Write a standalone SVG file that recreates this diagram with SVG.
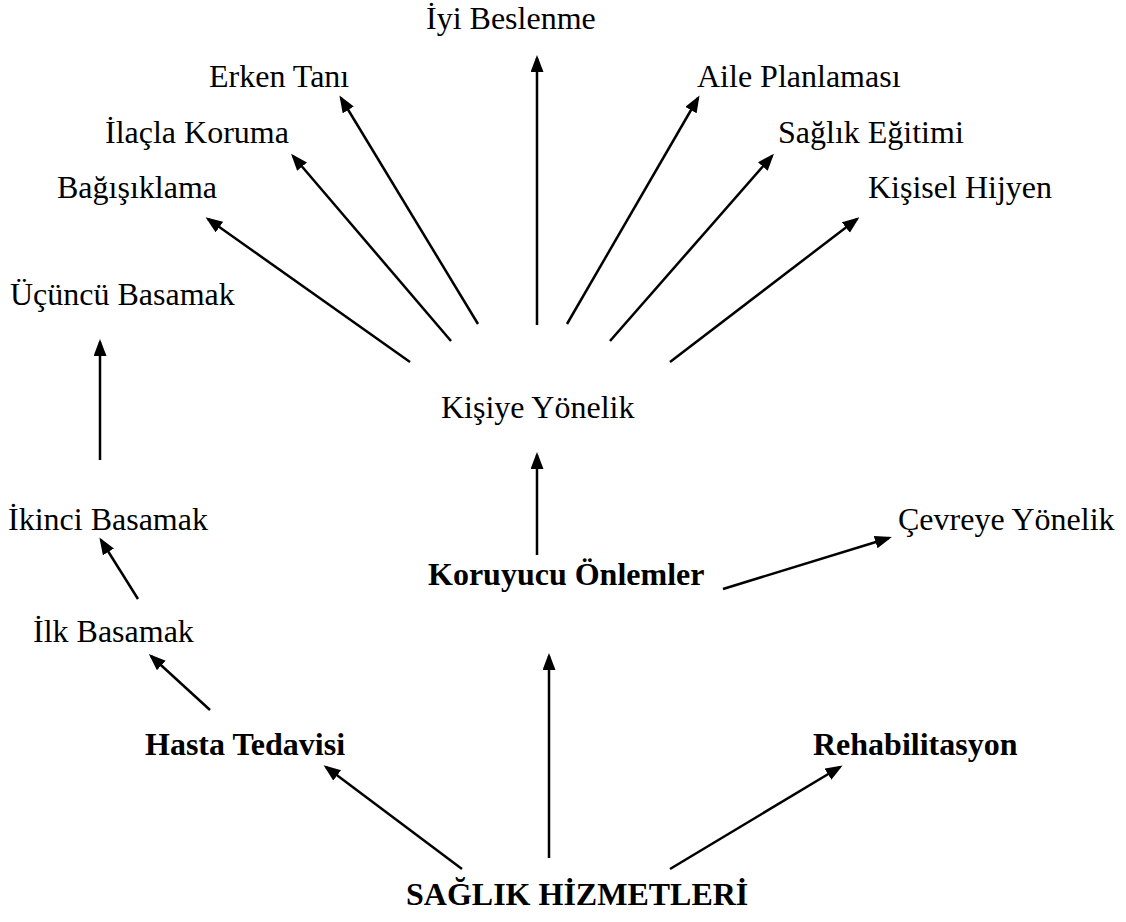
<svg xmlns="http://www.w3.org/2000/svg" width="1126" height="922" viewBox="0 0 1126 922">
<style>
text{font-family:"Liberation Serif","Times New Roman",serif;font-size:32px;fill:#000}
.b{font-weight:bold}
.c line{stroke:#000;stroke-width:2.5;marker-end:url(#ah)}
</style>
<defs>
<marker id="ah" markerUnits="userSpaceOnUse" markerWidth="18" markerHeight="14" refX="14" refY="6.5" orient="auto" viewBox="0 0 18 14">
<path d="M0,0 L17,6.5 L0,13 z" fill="#000"/>
</marker>
</defs>
<rect width="1126" height="922" fill="#fff"/>
<g class="c" id="connectors">
<line x1="537" y1="325" x2="537" y2="58"/>
<line x1="478" y1="324" x2="341" y2="98"/>
<line x1="451" y1="341" x2="293" y2="156"/>
<line x1="410" y1="362" x2="208" y2="219"/>
<line x1="567" y1="324" x2="698" y2="98"/>
<line x1="610" y1="341" x2="772" y2="156"/>
<line x1="670" y1="362" x2="857" y2="219"/>
<line x1="537" y1="555" x2="537" y2="455"/>
<line x1="723" y1="589" x2="889" y2="538"/>
<line x1="100" y1="460" x2="100" y2="342"/>
<line x1="138" y1="599" x2="101" y2="540"/>
<line x1="210" y1="710" x2="151" y2="656"/>
<line x1="462" y1="869" x2="326" y2="767"/>
<line x1="549" y1="858" x2="549" y2="656"/>
<line x1="670" y1="869" x2="840" y2="767"/>
</g>
<g id="iyi-beslenme"><text x="426" y="29">İyi Beslenme</text></g>
<g id="erken-tani"><text x="209" y="87">Erken Tanı</text></g>
<g id="aile-planlamasi"><text x="697" y="87">Aile Planlaması</text></g>
<g id="ilacla-koruma"><text x="105" y="143">İlaçla Koruma</text></g>
<g id="saglik-egitimi"><text x="778" y="143">Sağlık Eğitimi</text></g>
<g id="bagisiklama"><text x="57" y="198">Bağışıklama</text></g>
<g id="kisisel-hijyen"><text x="868" y="198">Kişisel Hijyen</text></g>
<g id="ucuncu-basamak"><text x="10" y="305">Üçüncü Basamak</text></g>
<g id="kisiye-yonelik"><text x="441" y="418">Kişiye Yönelik</text></g>
<g id="ikinci-basamak"><text x="8" y="530">İkinci Basamak</text></g>
<g id="cevreye-yonelik"><text x="898" y="530">Çevreye Yönelik</text></g>
<g id="koruyucu-onlemler"><text class="b" x="428" y="585">Koruyucu Önlemler</text></g>
<g id="ilk-basamak"><text x="33" y="642">İlk Basamak</text></g>
<g id="hasta-tedavisi"><text class="b" x="145" y="755">Hasta Tedavisi</text></g>
<g id="rehabilitasyon"><text class="b" x="813" y="755">Rehabilitasyon</text></g>
<g id="saglik-hizmetleri"><text class="b" x="406" y="905">SAĞLIK HİZMETLERİ</text></g>
</svg>
